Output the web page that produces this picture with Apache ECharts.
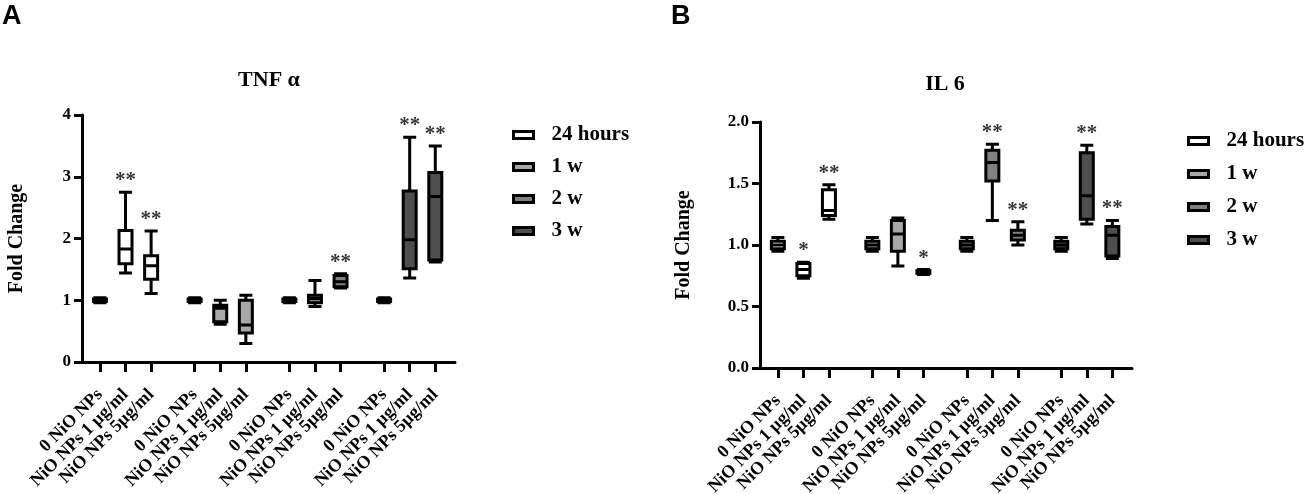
<!DOCTYPE html>
<html>
<head>
<meta charset="utf-8">
<script src="https://cdn.jsdelivr.net/npm/echarts@6/dist/echarts.min.js"></script>
<style>
  html, body { margin: 0; padding: 0; background: #fff; }
  #chart { width: 1306px; height: 494px; }
</style>
</head>
<body>
<div id="chart"></div>
<script>
// categories
var doses = ['0 NiO NPs', 'NiO NPs 1 µg/ml', 'NiO NPs 5µg/ml'];
var times = ['24 hours', '1 w', '2 w', '3 w'];
var timeColors = ['#ffffff', '#a8a8a8', '#808080', '#4e4e4e'];

// TNF alpha fold change, one [min, Q1, median, Q3, max] per dose
var tnf24h = [[0.96, 0.98, 1.00, 1.02, 1.04], [1.44, 1.59, 1.83, 2.13, 2.75], [1.11, 1.34, 1.56, 1.72, 2.12]];
var tnf1w  = [[0.96, 0.98, 1.00, 1.02, 1.04], [0.61, 0.65, 0.87, 0.92, 1.00], [0.30, 0.47, 0.60, 1.00, 1.08]];
var tnf2w  = [[0.96, 0.98, 1.00, 1.02, 1.04], [0.90, 0.96, 1.03, 1.08, 1.32], [1.20, 1.22, 1.30, 1.40, 1.43]];
var tnf3w  = [[0.96, 0.98, 1.00, 1.02, 1.04], [1.36, 1.51, 1.98, 2.77, 3.64], [1.62, 1.65, 2.68, 3.07, 3.50]];
var tnfStars = [['', '**', '**'], ['', '', ''], ['', '', '**'], ['', '**', '**']];

// IL 6 fold change
var il6_24h = [[0.95, 0.97, 1.00, 1.03, 1.06], [0.73, 0.75, 0.80, 0.85, 0.86], [1.21, 1.24, 1.28, 1.45, 1.49]];
var il6_1w  = [[0.95, 0.97, 1.00, 1.03, 1.06], [0.83, 0.95, 1.09, 1.20, 1.22], [0.76, 0.77, 0.78, 0.79, 0.80]];
var il6_2w  = [[0.95, 0.97, 1.00, 1.03, 1.06], [1.20, 1.52, 1.67, 1.77, 1.82], [1.00, 1.04, 1.08, 1.12, 1.19]];
var il6_3w  = [[0.95, 0.97, 1.00, 1.03, 1.06], [1.17, 1.21, 1.40, 1.75, 1.81], [0.89, 0.91, 1.08, 1.15, 1.20]];
var il6Stars = [['', '*', '**'], ['', '', '*'], ['', '**', '**'], ['', '**', '**']];

var tnfTicks = [0, 1, 2, 3, 4];
var il6Ticks = [0.0, 0.5, 1.0, 1.5, 2.0];

var SERIF = 'Liberation Serif';
var GROUP_GAP = 0.7; // extra space between time groups

function xPos(g, d) {
  return 1 + g * doses.length + d + g * GROUP_GAP;
}
var positions = [];
times.forEach(function (t, g) {
  doses.forEach(function (d, i) { positions.push(xPos(g, i)); });
});
function doseLabel(v) {
  for (var i = 0; i < positions.length; i++) {
    if (Math.abs(positions[i] - v) < 1e-6) return doses[i % doses.length];
  }
  return '';
}

var panels = [
  { title: 'TNF α', titleX: 269, titleY: 69, grid: { left: 82, top: 115, width: 373, height: 247 },
    data: [tnf24h, tnf1w, tnf2w, tnf3w], stars: tnfStars, ticks: tnfTicks, digits: 0,
    nameGap: 55, legend: { left: 512, top: 124, gap: 10 } },
  { title: 'IL 6', titleX: 945, titleY: 73, grid: { left: 760, top: 122, width: 372, height: 246 },
    data: [il6_24h, il6_1w, il6_2w, il6_3w], stars: il6Stars, ticks: il6Ticks, digits: 1,
    nameGap: 66, legend: { left: 1187, top: 130, gap: 11 } }
];

var option = {
  animation: false,
  backgroundColor: '#fff',
  title: [
    { text: 'A', left: 2, top: 3, padding: 0, textStyle: { fontFamily: 'Liberation Sans', fontWeight: 'bold', fontSize: 27, color: '#000' } },
    { text: 'B', left: 671, top: 3, padding: 0, textStyle: { fontFamily: 'Liberation Sans', fontWeight: 'bold', fontSize: 27, color: '#000' } }
  ],
  legend: [],
  grid: [],
  xAxis: [],
  yAxis: [],
  series: []
};

panels.forEach(function (p, k) {
  option.title.push({
    text: p.title, left: p.titleX, top: p.titleY, textAlign: 'center', padding: 0,
    textStyle: { fontFamily: SERIF, fontWeight: 'bold', fontSize: 22, color: '#000' }
  });
  option.grid.push(Object.assign({ outerBoundsMode: 'none', containLabel: false }, p.grid));
  option.yAxis.push({
    type: 'value', gridIndex: k,
    min: p.ticks[0], max: p.ticks[p.ticks.length - 1], interval: p.ticks[1] - p.ticks[0],
    name: 'Fold Change', nameLocation: 'middle', nameRotate: 90, nameGap: p.nameGap,
    nameTextStyle: { fontFamily: SERIF, fontWeight: 'bold', fontSize: 20, color: '#000' },
    axisLine: { show: true, lineStyle: { color: '#000', width: 3 } },
    axisTick: { show: true, length: 8, lineStyle: { color: '#000', width: 3 } },
    axisLabel: {
      margin: 11, color: '#000', fontFamily: SERIF, fontWeight: 'bold', fontSize: 17,
      formatter: (function (dg) { return function (v) { return v.toFixed(dg); }; })(p.digits)
    },
    splitLine: { show: false }
  });
  // one x axis per time group so the boxes are not offset against each other
  times.forEach(function (t, g) {
    var ax = {
      type: 'value', gridIndex: k, min: 0.3, max: 14.87,
      splitLine: { show: false }
    };
    if (g === 0) {
      ax.axisLine = { show: true, lineStyle: { color: '#000', width: 3 } };
      ax.axisTick = { show: true, length: 10, customValues: positions, lineStyle: { color: '#000', width: 3 } };
      ax.axisLabel = {
        customValues: positions, rotate: 45, margin: 30, color: '#000',
        showMinLabel: true, showMaxLabel: true, hideOverlap: false,
        fontFamily: SERIF, fontWeight: 'bold', fontSize: 18, formatter: doseLabel
      };
    } else {
      ax.show = false;
    }
    option.xAxis.push(ax);

    option.series.push({
      type: 'boxplot', name: t,
      xAxisIndex: k * times.length + g, yAxisIndex: k,
      boxWidth: [13, 13],
      itemStyle: { color: timeColors[g], borderColor: '#000', borderWidth: 3 },
      emphasis: { disabled: true },
      data: p.data[g].map(function (v, i) { return [xPos(g, i)].concat(v); })
    });
  });

  var starData = [];
  p.stars.forEach(function (row, g) {
    row.forEach(function (s, i) {
      if (s) starData.push({ name: s, value: [xPos(g, i), p.data[g][i][4]] });
    });
  });
  option.series.push({
    type: 'scatter', xAxisIndex: k * times.length, yAxisIndex: k,
    symbolSize: 0, silent: true,
    label: { show: true, position: 'top', distance: 1, formatter: '{b}',
      color: '#000', fontFamily: SERIF, fontWeight: 'bold', fontSize: 21 },
    data: starData
  });

  option.legend.push({
    orient: 'vertical', left: p.legend.left, top: p.legend.top, padding: 0,
    icon: 'rect', itemWidth: 20, itemHeight: 7, itemGap: p.legend.gap,
    textStyle: { fontFamily: SERIF, fontWeight: 'bold', fontSize: 21, color: '#000', lineHeight: 22, padding: [0, 0, 0, 13] },
    data: times.map(function (t, g) {
      return { name: t, itemStyle: { color: timeColors[g], borderColor: '#000', borderWidth: 3 } };
    })
  });
});

var chart = echarts.init(document.getElementById('chart'));
chart.setOption(option);
</script>
</body>
</html>
